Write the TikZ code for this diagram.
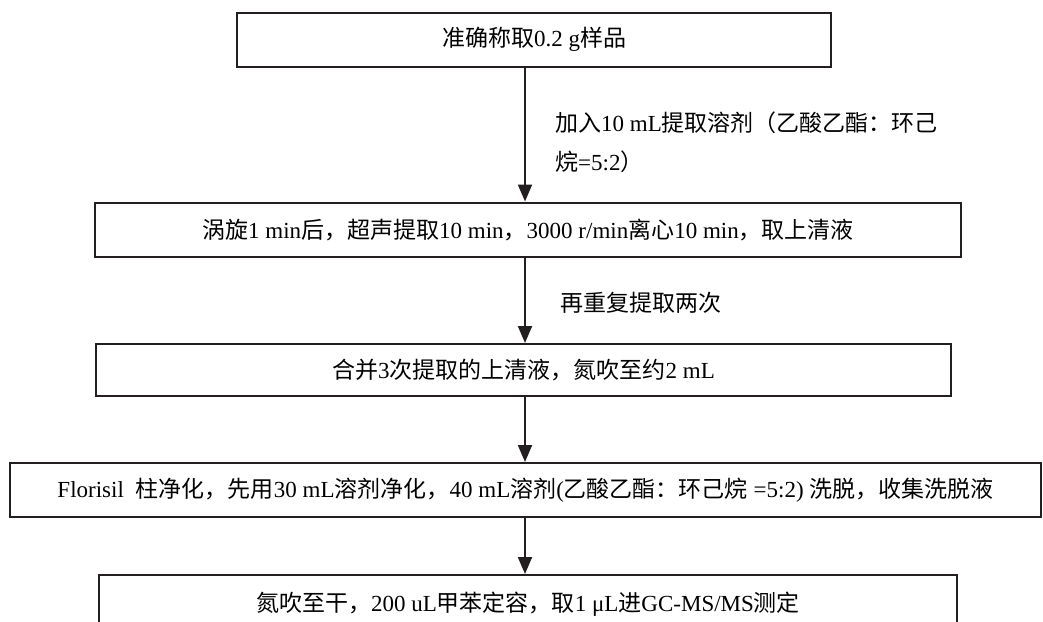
\documentclass[tikz,border=0pt]{standalone}
\usepackage{fontspec}
\setmainfont{Liberation Serif}
\newfontfamily\cjk{Noto Sans CJK SC}
\newcommand{\zh}[1]{{\cjk #1}}
\usetikzlibrary{positioning, arrows.meta}
\definecolor{boxline}{HTML}{231F20}

\tikzset{
  stepbox/.style={draw=boxline, line width=2pt, minimum height=54pt, inner sep=0pt,
    font=\fontsize{23}{28}\selectfont},
  flow/.style={draw=boxline, line width=2pt, -{Triangle[width=14pt,length=17pt]}},
  note/.style={font=\fontsize{23}{39}\selectfont, align=left, anchor=west, inner sep=0pt}
}

\begin{document}
\begin{tikzpicture}[x=1pt,y=-1pt]
	\useasboundingbox (0,0) rectangle (1043,621);
	\clip (0,0) rectangle (1043,621);
	\coordinate (ax) at (525,0);
	% steps
	\node[stepbox, minimum width=594pt] (weigh) at (534,39.5) {\zh{准确称取}0.2 g\zh{样品}};
	\node[stepbox, minimum width=866pt] (vortex) at (528,229.5)
		{\zh{涡旋}1 min\zh{后，超声提取}10 min\zh{，}3000 r/min\zh{离心}10 min\zh{，取上清液}};
	\node[stepbox, minimum width=855pt, minimum height=52pt] (merge) at (523.5,370)
		{\zh{合并}3\zh{次提取的上清液，氮吹至约}2 mL};
	\node[stepbox, minimum width=1031pt] (column) at (525.5,490)
		{Florisil\hspace{12pt}\zh{柱净化，先用}30 mL\zh{溶剂净化，}40 mL\zh{溶剂}(\zh{乙酸乙酯：环己烷} =5:2) \zh{洗脱，收集洗脱液}};
	\node[stepbox, minimum width=858pt, minimum height=58pt] (detect) at (528,604)
		{\zh{氮吹至干，}200 uL\zh{甲苯定容，取}1 μL\zh{进}GC-MS/MS\zh{测定}};
	% arrows
	\draw[flow] (weigh.south -| ax) -- (vortex.north -| ax);
	\draw[flow] (vortex.south -| ax) -- (merge.north -| ax);
	\draw[flow] (merge.south -| ax) -- (column.north -| ax);
	\draw[flow] (column.south -| ax) -- (detect.north -| ax);
	% labels
	\node[note] (solvent) at (555,142.5) {\zh{加入}10 mL\zh{提取溶剂（乙酸乙酯：环己}\\\zh{烷}=5:2\zh{）}};
	\node[note] (repeat) at (560,303) {\zh{再重复提取两次}};
\end{tikzpicture}
\end{document}
